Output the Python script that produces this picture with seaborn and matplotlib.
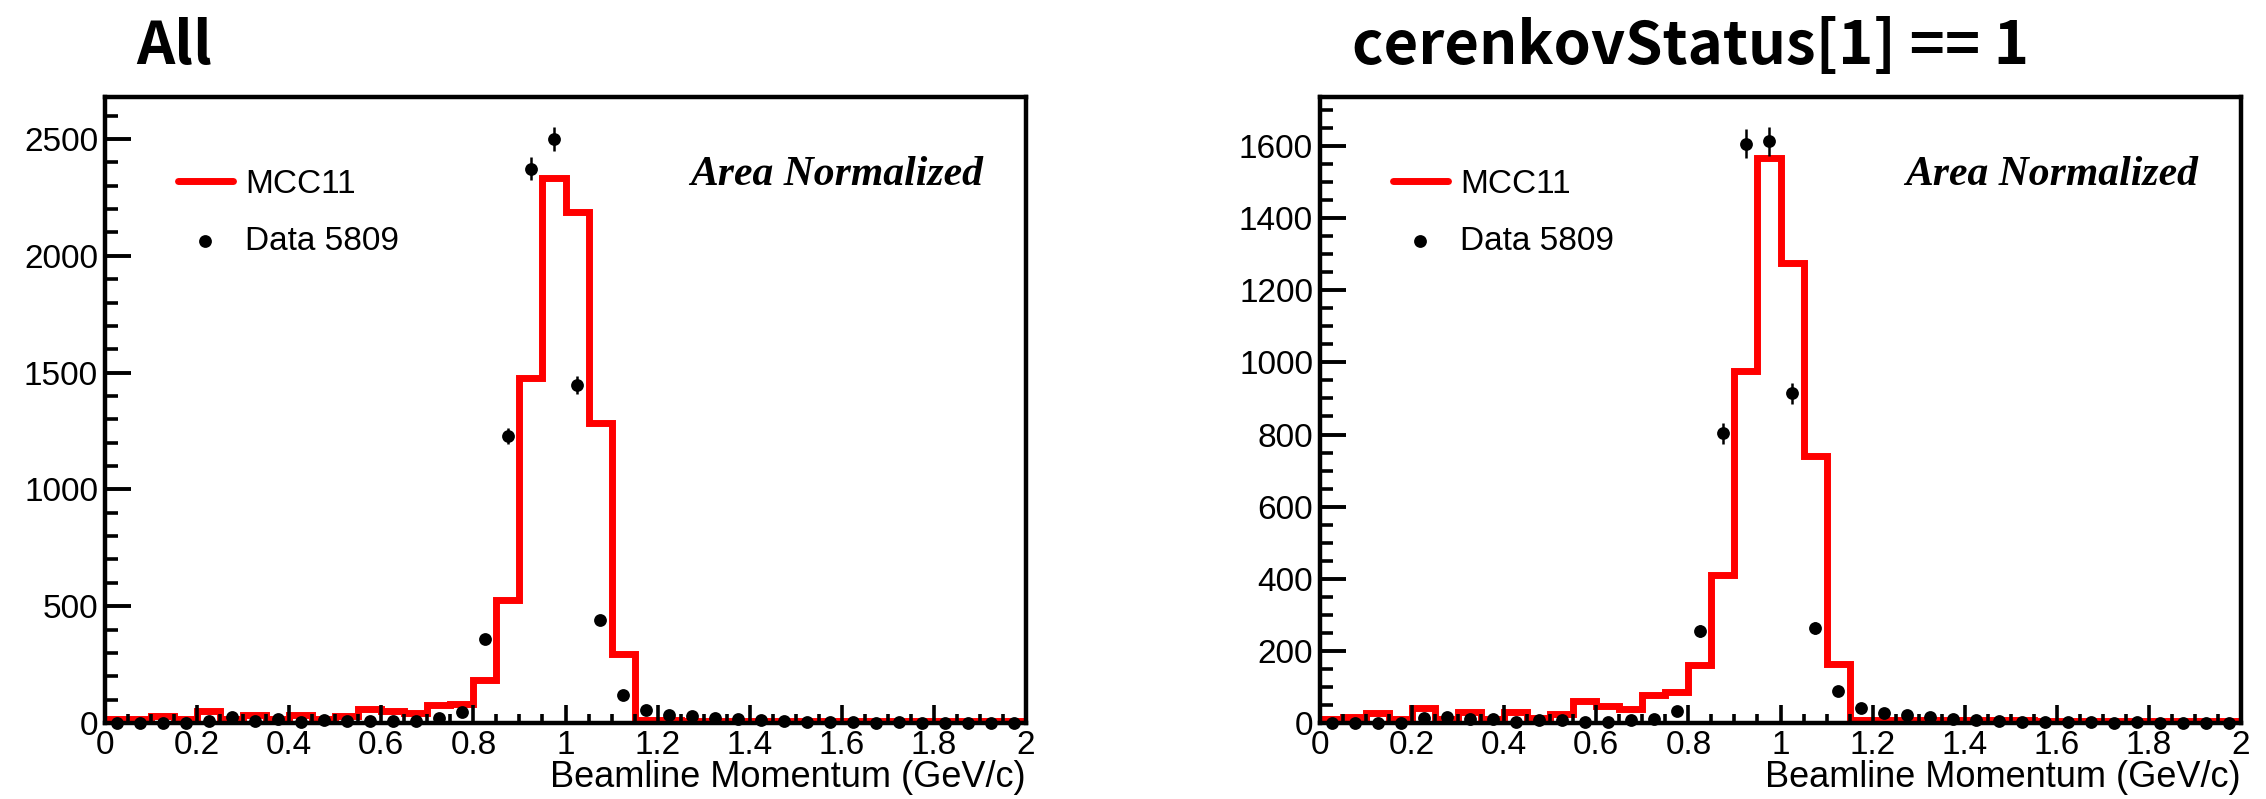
import numpy as np
import pandas as pd
import matplotlib
matplotlib.use("Agg")
import matplotlib.pyplot as plt
from matplotlib.ticker import MultipleLocator, FuncFormatter
import seaborn as sns

# ---------------- data ----------------
bin_edges = [round(0.05 * i, 2) for i in range(41)]   # 40 bins of 0.05 GeV/c
bin_centers = [round(0.05 * i + 0.025, 3) for i in range(40)]

titles = ["All", "cerenkovStatus[1] == 1"]
x_label = "Beamline Momentum (GeV/c)"
legend_labels = ["MCC11", "Data 5809"]
note_text = "Area Normalized"

mc_all = [17, 17, 28, 17, 50, 17, 33, 17, 33, 17,
          28, 60, 50, 44, 76, 83, 185, 526, 1475, 2334,
          2188, 1283, 297, 12, 11, 10, 10, 9, 9, 9,
          8, 8, 8, 8, 8, 8, 8, 8, 8, 8]
data_all = [1, 1, 1, 1, 10, 25, 10, 15, 5, 12,
            8, 8, 8, 10, 20, 45, 360, 1228, 2373, 2500,
            1446, 440, 122, 55, 35, 30, 22, 18, 14, 8,
            5, 3, 3, 2, 3, 2, 2, 2, 1, 1]

mc_cer = [11, 18, 28, 11, 42, 11, 30, 11, 30, 14,
          25, 61, 47, 40, 78, 86, 160, 410, 976, 1567,
          1277, 740, 163, 8, 8, 8, 8, 7, 7, 7,
          7, 6, 6, 6, 6, 6, 6, 6, 6, 6]
data_cer = [1, 1, 1, 0, 14, 18, 11, 11, 4, 8,
            7, 4, 4, 8, 11, 32, 255, 803, 1607, 1613,
            914, 263, 89, 42, 28, 22, 16, 11, 9, 6,
            3, 2, 2, 2, 1, 2, 1, 1, 1, 1]

panels = [
    dict(mc=mc_all, data=data_all, title=titles[0], ymax=2680, ymajor=500, yminor=100),
    dict(mc=mc_cer, data=data_cer, title=titles[1], ymax=1736, ymajor=200, yminor=50),
]

# ---------------- style ----------------
sns.set_theme(style="white")
plt.rcParams["font.family"] = ["Liberation Sans", "DejaVu Sans"]
plt.rcParams["text.color"] = "black"
plt.rcParams["axes.labelcolor"] = "black"
plt.rcParams["xtick.color"] = "black"
plt.rcParams["ytick.color"] = "black"

W, H = 2266, 799
fig = plt.figure(figsize=(W / 100, H / 100), dpi=100)

axes_px = [(105, 1026), (1320, 2241)]
top_px, bot_px = 97, 723
title_x_px = [136, 1352]

for p, (l, r), tx in zip(panels, axes_px, title_x_px):
    ax = fig.add_axes([l / W, (H - bot_px) / H, (r - l) / W, (bot_px - top_px) / H])

    df = pd.DataFrame({"momentum": bin_centers, "mc": np.asarray(p["mc"], float),
                       "data": np.asarray(p["data"], float)})

    sns.histplot(data=df, x="momentum", weights="mc", bins=bin_edges, element="step",
                 fill=False, color="#ff0000", linewidth=5, ax=ax, label=legend_labels[0],
                 solid_joinstyle="miter")
    errs = np.sqrt(df["data"].to_numpy())
    ax.errorbar(df["momentum"], df["data"], yerr=errs, fmt="none", ecolor="black",
                elinewidth=1.8, capsize=0, zorder=4, clip_on=False)
    sns.scatterplot(data=df, x="momentum", y="data", color="black", s=85,
                    linewidth=0, ax=ax, label=legend_labels[1], zorder=5, clip_on=False)

    ax.set_xlim(0, 2)
    ax.set_ylim(0, p["ymax"])
    ax.set_ylabel("")
    ax.set_xlabel(x_label, loc="right", fontsize=26, labelpad=-1, color="black")

    ax.xaxis.set_major_locator(MultipleLocator(0.2))
    ax.xaxis.set_minor_locator(MultipleLocator(0.05))
    ax.yaxis.set_major_locator(MultipleLocator(p["ymajor"]))
    ax.yaxis.set_minor_locator(MultipleLocator(p["yminor"]))
    ax.xaxis.set_major_formatter(FuncFormatter(lambda v, pos: f"{v:g}"))
    ax.yaxis.set_major_formatter(FuncFormatter(lambda v, pos: f"{v:g}"))

    ax.tick_params(axis="both", which="both", direction="in", bottom=True, left=True,
                   top=False, right=False, colors="black", labelsize=24)
    ax.tick_params(axis="x", which="major", length=13, width=2.6, pad=5)
    ax.tick_params(axis="x", which="minor", length=6.5, width=2.6)
    ax.tick_params(axis="y", which="major", length=19, width=2.8, pad=5)
    ax.tick_params(axis="y", which="minor", length=9, width=2.6)
    for s in ax.spines.values():
        s.set_linewidth(3.2)
        s.set_color("black")
        s.set_visible(True)
    ax.set_axisbelow(False)

    handles, labels = ax.get_legend_handles_labels()
    ax.legend(handles, labels, loc="upper left", bbox_to_anchor=(0.079, 0.885),
              frameon=False, fontsize=24, handlelength=1.65, handletextpad=0.36,
              labelspacing=0.78, borderpad=0, borderaxespad=0, markerscale=1.0,
              labelcolor="black")

    ax.text(0.953, 0.876, note_text, transform=ax.transAxes, ha="right", va="center",
            fontsize=30, fontweight="bold", fontstyle="italic", color="black",
            family=["Liberation Serif", "DejaVu Serif"])

    fig.text(tx / W, (H - 64) / H, p["title"], ha="left", va="baseline", fontsize=43,
             fontweight="bold", color="black",
             family=["Noto Sans CJK KR", "Liberation Sans", "DejaVu Sans"])

fig.savefig("out.png", dpi=100)
